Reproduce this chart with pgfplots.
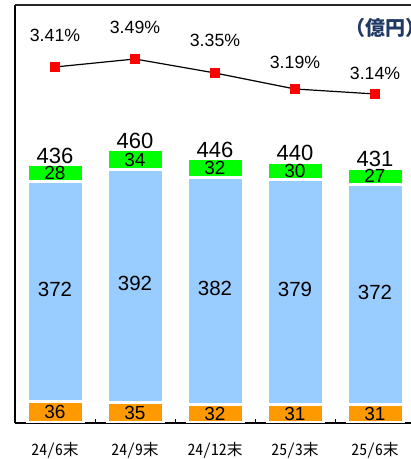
\documentclass[border=0pt]{standalone}
\usepackage{pgfplots}
\usepackage{pgfplotstable}
\pgfplotsset{compat=1.18}
\usepackage{fontspec}
\setmainfont{Liberation Sans}
\newfontfamily\jp{Noto Sans CJK JP}
\newfontfamily\jpmono{Noto Sans CJK JP}[RawFeature=+hwid]
\definecolor{cOrange}{RGB}{255,153,0}
\definecolor{cBlue}{RGB}{153,204,255}
\definecolor{cGreen}{RGB}{0,255,0}
\definecolor{cNavy}{RGB}{31,56,100}

\pgfplotstableread{
x o b g t r
0 36 372 28 436 3.41
1 35 392 34 460 3.49
2 32 382 32 446 3.35
3 31 379 30 440 3.19
4 31 372 27 431 3.14
}\data
\pgfplotstablecreatecol[create col/expr={\thisrow{o}/2}]{om}{\data}
\pgfplotstablecreatecol[create col/expr={\thisrow{o}+\thisrow{b}/2+4}]{bm}{\data}
\pgfplotstablecreatecol[create col/expr={\thisrow{o}+\thisrow{b}+\thisrow{g}/2}]{gm}{\data}

\pgfplotsset{base/.style={scale only axis, width=400bp, height=418bp,
  xmin=-0.5, xmax=4.5, at={(15bp,36bp)}, anchor=south west}}

\begin{document}
\begin{tikzpicture}
\useasboundingbox (0,0) rectangle (411bp,459bp);
\begin{axis}[base, ymin=0, ymax=705, ybar stacked, bar width=0.7,
  axis lines*=left,
  axis line style={black, line width=1.2bp},
  ytick=\empty, xtick={0,...,4},
  xticklabels={24/6末,24/9末,24/12末,25/3末,25/6末},
  major tick length=0pt,
  minor xtick={0.5,1.5,2.5,3.5}, minor tick length=4bp,
  minor tick style={black, line width=1bp},
  tick align=inside, x tick label style={font=\jpmono\fontsize{15.7bp}{16bp}\selectfont, inner sep=0pt, yshift=-19bp}]
\addplot[fill=cOrange, draw=white, line width=3bp] table[x=x,y=o]{\data};
\addplot[fill=cBlue, draw=white, line width=3bp] table[x=x,y=b]{\data};
\addplot[fill=cGreen, draw=white, line width=3bp] table[x=x,y=g]{\data};
\draw[black, line width=2bp] (rel axis cs:0,0) -- (rel axis cs:1,0);
\draw[black!85, line width=1.2bp] (rel axis cs:0,1) -- (rel axis cs:1,1);
\end{axis}
\begin{axis}[base, ymin=0, ymax=705, axis lines=none]
\addplot[draw=none, mark=none, nodes near coords, point meta=explicit symbolic,
  nodes near coords style={anchor=center, inner sep=0pt, font=\fontsize{19bp}{19bp}\selectfont}]
  table[x=x,y=om,meta=o]{\data};
\addplot[draw=none, mark=none, nodes near coords, point meta=explicit symbolic,
  nodes near coords style={anchor=center, inner sep=0pt, font=\fontsize{20.5bp}{20bp}\selectfont}]
  table[x=x,y=bm,meta=b]{\data};
\addplot[draw=none, mark=none, nodes near coords, point meta=explicit symbolic,
  nodes near coords style={anchor=center, inner sep=0pt, font=\fontsize{19bp}{19bp}\selectfont}]
  table[x=x,y=gm,meta=g]{\data};
\addplot[draw=none, mark=none, nodes near coords, point meta=explicit symbolic,
  nodes near coords style={anchor=south, inner sep=0pt, yshift=1bp, font=\fontsize{22bp}{22bp}\selectfont}]
  table[x=x,y=t,meta=t]{\data};
\end{axis}
\begin{axis}[base, ymin=-0.15, ymax=4.03, axis lines=none]
\addplot[black, line width=1.2bp, mark=square*, mark size=4.6bp,
  mark options={fill=red, draw=red, line width=0pt}] table[x=x,y=r]{\data};
\begin{scope}[every node/.style={font=\fontsize{17.7bp}{18bp}\selectfont}]
\node at (axis cs:0,3.73) {3.41\%};
\node at (axis cs:1,3.81) {3.49\%};
\node at (axis cs:2,3.68) {3.35\%};
\node at (axis cs:3,3.46) {3.19\%};
\node at (axis cs:4,3.35) {3.14\%};
\end{scope}
\end{axis}
\node[anchor=west, text=cNavy, font=\jp\bfseries\fontsize{20bp}{20bp}\selectfont, inner sep=0pt] at (345bp,431bp) {（億円）};
\end{tikzpicture}
\end{document}
